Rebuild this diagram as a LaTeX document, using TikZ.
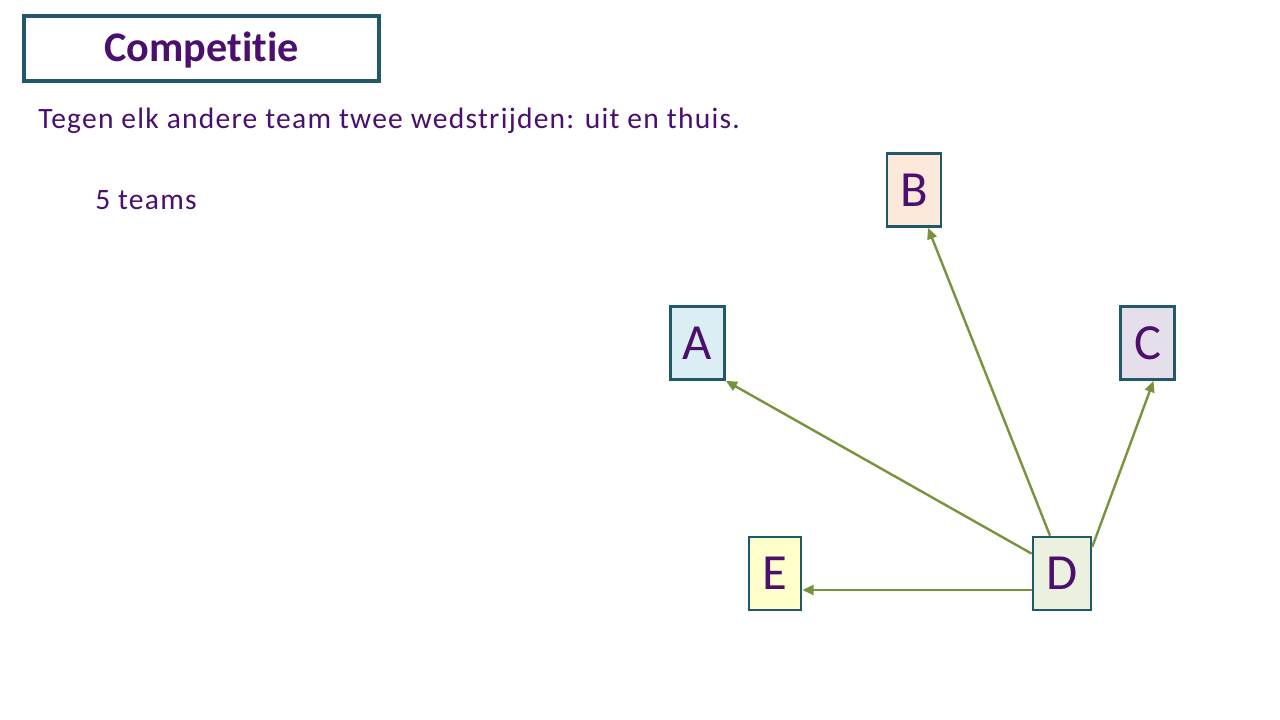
\documentclass[tikz,border=0pt]{standalone}
\usepackage{fontspec}
\setmainfont{Carlito}[Ligatures=NoCommon]
\newfontfamily\widefont{Carlito}[LetterSpace=4.2,Ligatures=NoCommon]
\usetikzlibrary{calc,arrows.meta}
\definecolor{txtpurple}{HTML}{4B0F6E}
\definecolor{boxteal}{HTML}{215968}
\definecolor{arrowgreen}{HTML}{77933C}
\definecolor{fillA}{HTML}{DAEEF3}
\definecolor{fillB}{HTML}{FDE9D9}
\definecolor{fillC}{HTML}{E5DFEC}
\definecolor{fillD}{HTML}{EBF1DE}
\definecolor{fillE}{HTML}{FFFFCC}
\tikzset{
  team/.style={rectangle,draw=boxteal,line width=1.9pt,inner sep=0pt,
    minimum width=54*0.025cm,minimum height=73*0.025cm,
    text=txtpurple,font=\fontsize{36}{40}\selectfont},
  match/.style={draw=arrowgreen,line width=1.7pt,-{Triangle[length=8pt,width=7pt]}},
  plain/.style={anchor=base west,text=txtpurple,inner sep=0pt,font=\widefont\fontsize{21}{25}\selectfont}
}
\begin{document}
\begin{tikzpicture}[x=0.025cm,y=-0.025cm]
  \useasboundingbox[fill=white] (0,0) rectangle (1280,720);
  % title
  \node[rectangle,draw=boxteal,line width=2.2pt,minimum width=355*0.025cm,minimum height=65*0.025cm,
    text height=19pt,text depth=0pt,
    text=txtpurple,font=\fontsize{30}{34}\selectfont\bfseries] (title) at (201.5,48.5) {Competitie};
  \node[plain] (rule) at (38,129) {Tegen elk andere team twee wedstrijden: uit en thuis.};
  \node[plain] (count) at (95,210) {5 teams};
  % teams
  \node[team,fill=fillA] (A) at (697.5,343) {A};
  \node[team,fill=fillB] (B) at (914,190) {B};
  \node[team,fill=fillC] (C) at (1147.5,343) {C};
  \node[team,fill=fillD,minimum width=58*0.025cm] (D) at (1062,573.5) {D};
  \node[team,fill=fillE,minimum width=52*0.025cm] (E) at (775,573.5) {E};
  % matches
  \draw[match] ($(D.west)+(0,16.5)$) -- ($(E.east)+(0,16.5)$);
  \draw[match] ($(D.north west)+(0,18)$) -- (A.south east);
  \draw[match] ($(D.north)+(-12,0)$) -- ($(B.south)+(14,0)$);
  \draw[match] ($(D.north east)+(0,11)$) -- ($(C.south)+(6,0)$);
\end{tikzpicture}
\end{document}
